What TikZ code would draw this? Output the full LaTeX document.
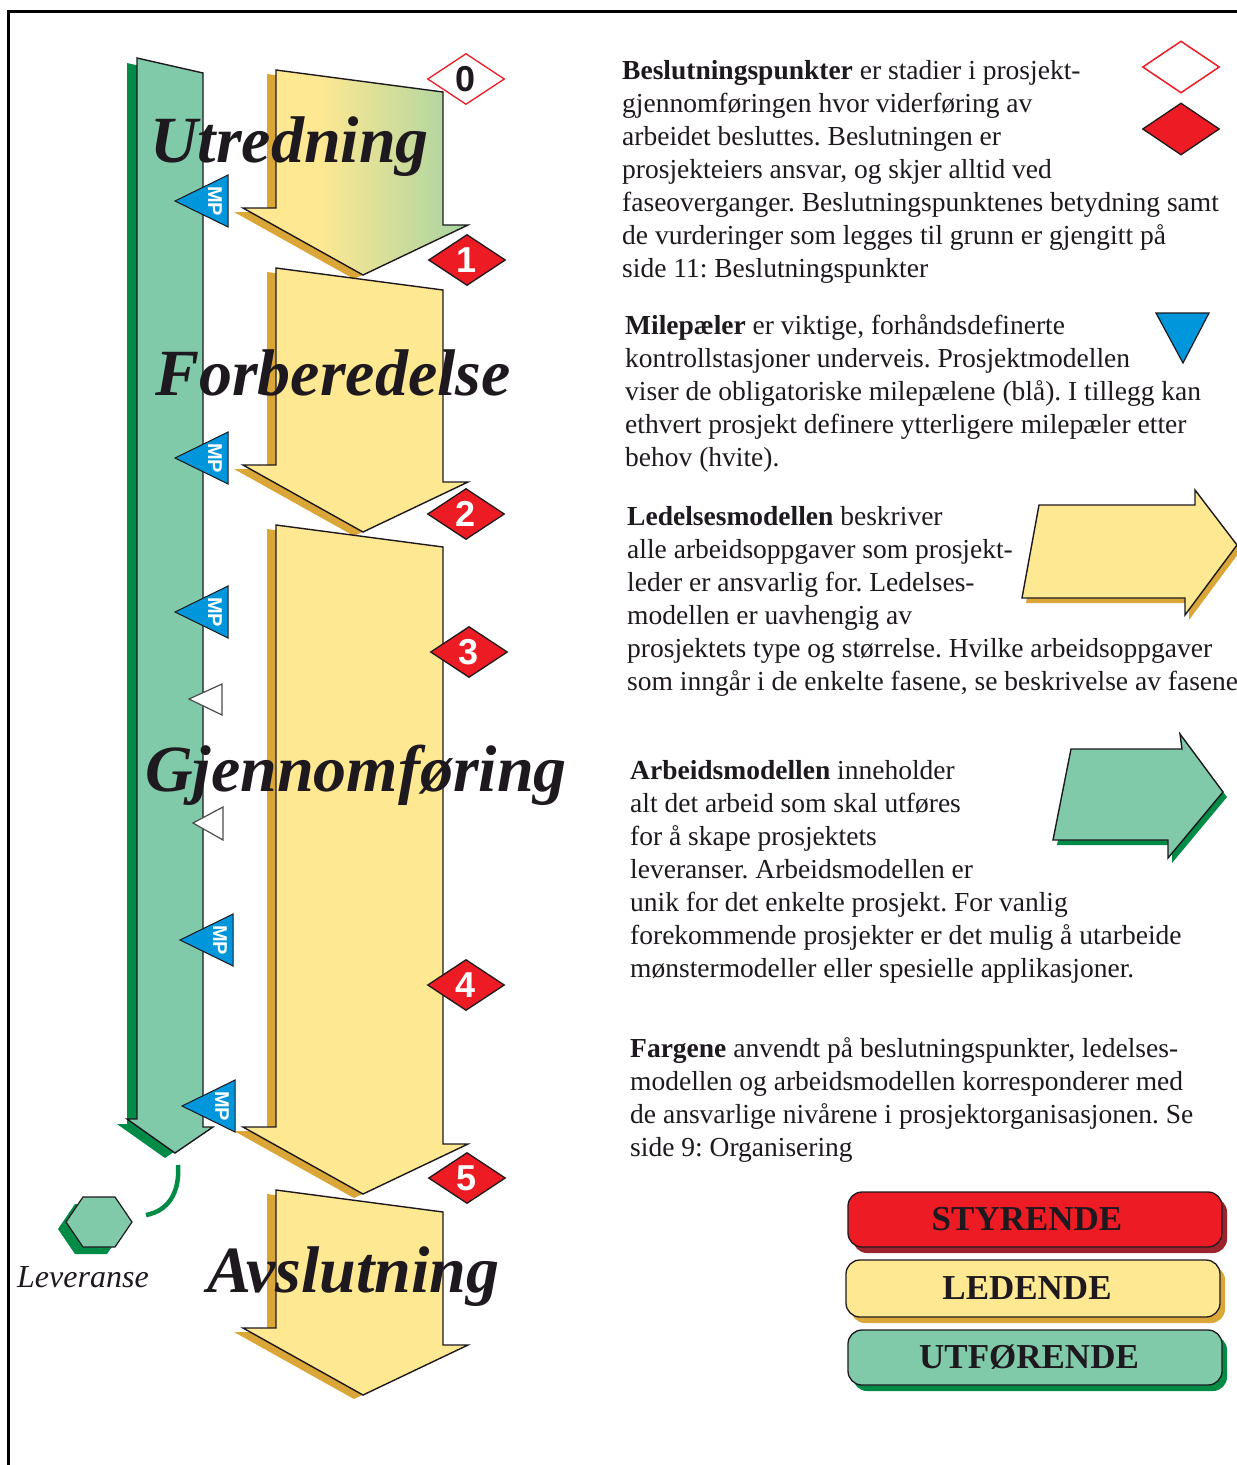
\documentclass[tikz,border=0pt]{standalone}
\usepackage{fontspec}
\setmainfont{Liberation Serif}
\newfontfamily\sansb{Liberation Sans}
\usetikzlibrary{shapes.geometric}
\frenchspacing

\definecolor{ylw}{RGB}{254,232,146}
\definecolor{gold}{RGB}{218,166,56}
\definecolor{mint}{RGB}{128,202,170}
\definecolor{dgreen}{RGB}{0,140,70}
\definecolor{dred}{RGB}{237,28,36}
\definecolor{rshadow}{RGB}{155,35,45}
\definecolor{mpblue}{RGB}{0,150,220}
\definecolor{sage}{RGB}{166,211,162}
\definecolor{ink}{RGB}{30,25,30}

\pgfdeclarehorizontalshading{phasegrad}{100bp}{color(0bp)=(ylw); color(25bp)=(ylw); color(42bp)=(ylw); color(75bp)=(sage); color(100bp)=(sage)}

% downward phase arrow: #1 = top edge (left), #2 = height of the left wing
\newcommand\phasepath[2]{(276,#1) -- (443,#1+22) -- (443,#2+17) -- (468,#2+17) -- (363,#2+67) -- (243,#2) -- (276,#2) -- cycle}
% vertical work-model column
\newcommand\columnpath{(137,58) -- (203,73) -- (203,1127) -- (213,1127) -- (175,1153) -- (127,1119) -- (137,1119) -- cycle}
% milestone triangle with its tip at (#1,#2)
\newcommand\mppath[2]{(#1,#2) -- (#1+53,#2-26) -- (#1+53,#2+26) -- cycle}
\newcommand\hexpath{(83,1197) -- (115,1197) -- (132,1222) -- (115,1247) -- (83,1247) -- (66,1222) -- cycle}

\begin{document}
\begin{tikzpicture}[x=1pt,y=-1pt,
  outline/.style={draw=ink, line width=1.4pt, line join=miter},
  phase/.style={anchor=base west, inner sep=0pt, text=ink,
    font=\fontsize{66}{66}\selectfont\bfseries\itshape},
  dia/.style={shape=diamond, minimum width=77pt, minimum height=51pt, inner sep=0pt,
    line width=1.3pt, draw=ink, fill=dred, text=white,
    font=\sansb\bfseries\fontsize{36}{36}\selectfont},
  diaopen/.style={dia, draw=dred, fill=white, text=ink},
  mptext/.style={rotate=-90, inner sep=0pt, text=white,
    font=\sansb\bfseries\fontsize{20}{20}\selectfont},
  para/.style={anchor=north west, inner sep=0pt, align=left, text=ink,
    font=\fontsize{27.5}{33}\selectfont},
  legbox/.style={rounded corners=14pt, draw=ink, line width=1.3pt,
    minimum width=374pt, minimum height=55pt, inner sep=0pt, text=ink,
    font=\fontsize{35}{35}\selectfont\bfseries}
]
\clip (0,0) rectangle (1237,1465);
\fill[white] (0,0) rectangle (1237,1465);

% frame
\draw[line width=3pt] (8,1470) -- (8,11) -- (1245,11);

% work-model column
\fill[dgreen, shift={(-10,5)}] \columnpath;
\draw[outline, fill=mint] \columnpath;

% phase arrows (management model)
\fill[gold, shift={(-9,4)}] \phasepath{70}{208};
\draw[outline, shading=phasegrad] \phasepath{70}{208};
\fill[gold, shift={(-9,4)}] \phasepath{268}{465};
\draw[outline, fill=ylw] \phasepath{268}{465};
\fill[gold, shift={(-9,4)}] \phasepath{525}{1127};
\draw[outline, fill=ylw] \phasepath{525}{1127};
\fill[gold, shift={(-9,4)}] \phasepath{1190}{1328};
\draw[outline, fill=ylw] \phasepath{1190}{1328};

% phase names
\node[phase] (utr) at (150,162) {Utredning};
\node[phase] (forb) at (155,395) {Forberedelse};
\node[phase] (gjen) at (145,791) {Gjennomføring};
\node[phase] (avsl) at (207,1292) {Avslutning};

% milestones
\foreach \tx/\ty [count=\i] in {175/201, 175/458, 175/612, 180/940, 182/1106}{
  \draw[draw=ink, line width=1pt, fill=mpblue] \mppath{\tx}{\ty};
  \node[mptext] (mp\i) at (\tx+40,\ty) {MP};
}
\draw[draw=gray!60!black, line width=1.2pt, fill=white] (189,699) -- (222,684) -- (222,715) -- cycle;
\draw[draw=gray!60!black, line width=1.2pt, fill=white] (193,823) -- (223,807) -- (223,840) -- cycle;

% decision points
\node[diaopen] (d0) at (466,79) {0};
\node[dia] (d1) at (467,260) {1};
\node[dia] (d2) at (466,514) {2};
\node[dia] (d3) at (469,652) {3};
\node[dia] (d4) at (466,985) {4};
\node[dia] (d5) at (467,1178) {5};

% deliverable
\fill[dgreen, shift={(-8,7)}] \hexpath;
\draw[draw=ink, line width=1.2pt, fill=mint] \hexpath;
\coordinate (arcA) at (178,1165);
\coordinate (arcB) at (146,1215);
\draw[dgreen, line width=4.5pt] (arcA) .. controls (180,1193) and (168,1211) .. (arcB);
\node[anchor=base west, inner sep=0pt, text=ink, font=\fontsize{32}{32}\selectfont\itshape]
  (lev) at (17,1287) {Leveranse};

% explanatory text
\node[para] (p1) at (622,56) {\strut\textbf{Beslutningspunkter} er stadier i prosjekt-\\
gjennomføringen hvor viderføring av\\
arbeidet besluttes. Beslutningen er\\
prosjekteiers ansvar, og skjer alltid ved\\
faseoverganger. Beslutningspunktenes betydning samt\\
de vurderinger som legges til grunn er gjengitt på\\
side 11: Beslutningspunkter};

\node[para] (p2) at (625,311) {\strut\textbf{Milepæler} er viktige, forhåndsdefinerte\\
kontrollstasjoner underveis. Prosjektmodellen\\
viser de obligatoriske milepælene (blå). I tillegg kan\\
ethvert prosjekt definere ytterligere milepæler etter\\
behov (hvite).};

\node[para] (p3) at (627,502) {\strut\textbf{Ledelsesmodellen} beskriver\\
alle arbeidsoppgaver som prosjekt-\\
leder er ansvarlig for. Ledelses-\\
modellen er uavhengig av\\
prosjektets type og størrelse. Hvilke arbeidsoppgaver\\
som inngår i de enkelte fasene, se beskrivelse av fasene};

\node[para] (p4) at (630,756) {\strut\textbf{Arbeidsmodellen} inneholder\\
alt det arbeid som skal utføres\\
for å skape prosjektets\\
leveranser. Arbeidsmodellen er\\
unik for det enkelte prosjekt. For vanlig\\
forekommende prosjekter er det mulig å utarbeide\\
mønstermodeller eller spesielle applikasjoner.};

\node[para] (p5) at (630,1034) {\strut\textbf{Fargene} anvendt på beslutningspunkter, ledelses-\\
modellen og arbeidsmodellen korresponderer med\\
de ansvarlige nivårene i prosjektorganisasjonen. Se\\
side 9: Organisering};

% key symbols
\node[diaopen, minimum height=52pt, line width=1.5pt] (k0) at (1181,67) {};
\node[dia, minimum height=52pt] (k1) at (1181,129) {};
\draw[draw=ink, line width=1.2pt, fill=mpblue] (1156,313) -- (1209,313) -- (1183,363) -- cycle;

\fill[gold, shift={(4,5)}] (1039,505) -- (1195,505) -- (1195,490) -- (1237,545) -- (1185,615) -- (1185,598) -- (1022,598) -- cycle;
\draw[outline, fill=ylw] (1039,505) -- (1195,505) -- (1195,490) -- (1237,545) -- (1185,615) -- (1185,598) -- (1022,598) -- cycle;
\fill[dgreen, shift={(4,5)}] (1071,749) -- (1182,749) -- (1180,734) -- (1223,792) -- (1168,858) -- (1168,840) -- (1053,840) -- cycle;
\draw[outline, fill=mint] (1071,749) -- (1182,749) -- (1180,734) -- (1223,792) -- (1168,858) -- (1168,840) -- (1053,840) -- cycle;

% responsibility levels
\fill[rshadow, rounded corners=14pt] (853,1198) rectangle (1227,1253);
\node[legbox, fill=dred] (styr) at (1035,1219.5) {\hspace*{-16pt}STYRENDE};
\fill[gold, rounded corners=14pt] (851,1266) rectangle (1225,1323);
\node[legbox, fill=ylw, minimum height=57pt] (led) at (1033,1288.5) {\hspace*{-12pt}LEDENDE};
\fill[dgreen, rounded corners=14pt] (853,1336) rectangle (1227,1391);
\node[legbox, fill=mint] (utf) at (1035,1357.5) {\hspace*{-12pt}UTFØRENDE};
\end{tikzpicture}
\end{document}
